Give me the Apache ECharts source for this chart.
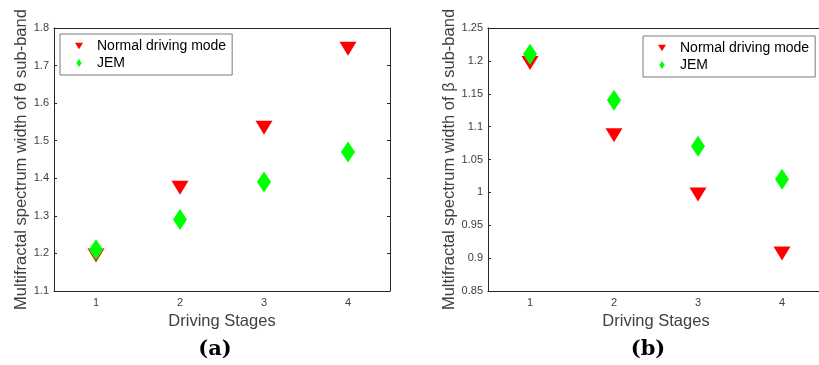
<!DOCTYPE html>
<html>
<head>
<meta charset="utf-8">
<script src="https://cdn.jsdelivr.net/npm/echarts@6/dist/echarts.min.js"></script>
<style>
  html, body { margin: 0; padding: 0; background: #fff; overflow: hidden; }
  #chart { width: 819px; height: 365px; }
</style>
</head>
<body>
<div id="chart"></div>
<script>
const stages = ['1', '2', '3', '4']
const seriesNames = ['Normal driving mode', 'JEM']

// (a) theta sub-band
const thetaNormal = [1.20, 1.38, 1.54, 1.75]
const thetaJem = [1.21, 1.29, 1.39, 1.47]
// (b) beta sub-band
const betaNormal = [1.20, 1.09, 1.00, 0.91]
const betaJem = [1.21, 1.14, 1.07, 1.02]

const thetaTicks = { min: 1.1, max: 1.8, interval: 0.1 }
const betaTicks = { min: 0.85, max: 1.25, interval: 0.05 }

const triPath = 'path://M0,0 L17,0 L8.5,14 Z'
const diaPath = 'path://M7,0 L14,10.5 L7,21 L0,10.5 Z'
const RED = '#ff0000'
const GREEN = '#00ff00'
const FONT = '"Liberation Sans", Arial, sans-serif'

const chart = echarts.init(document.getElementById('chart'))

const lineStyle = { color: '#262626', width: 1 }

const bottomX = (grid) => ({
  type: 'category',
  gridIndex: grid,
  data: stages,
  boundaryGap: true,
  name: 'Driving Stages',
  nameLocation: 'middle',
  nameGap: 20,
  nameTextStyle: { fontFamily: FONT, fontSize: 16.5, color: '#404040' },
  axisLine: { lineStyle },
  axisTick: { alignWithLabel: true, inside: true, length: 3, lineStyle },
  axisLabel: { fontFamily: FONT, fontSize: 11, color: '#404040', margin: 6 },
  splitLine: { show: false }
})

const topX = (grid) => ({
  type: 'category',
  gridIndex: grid,
  position: 'top',
  data: stages,
  boundaryGap: true,
  axisLine: { lineStyle },
  axisTick: { alignWithLabel: true, inside: true, length: 3, lineStyle },
  axisLabel: { show: false },
  splitLine: { show: false }
})

const leftY = (grid, ticks, name, gap) => ({
  type: 'value',
  gridIndex: grid,
  min: ticks.min,
  max: ticks.max,
  interval: ticks.interval,
  name: name,
  nameLocation: 'middle',
  nameGap: gap,
  nameTextStyle: { fontFamily: FONT, fontSize: 16.5, color: '#404040' },
  axisLine: { show: true, lineStyle },
  axisTick: { show: true, inside: true, length: 3, lineStyle },
  axisLabel: { fontFamily: FONT, fontSize: 11, color: '#404040', margin: 5 },
  splitLine: { show: false }
})

const rightY = (grid, ticks) => ({
  type: 'value',
  gridIndex: grid,
  position: 'right',
  min: ticks.min,
  max: ticks.max,
  interval: ticks.interval,
  axisLine: { show: true, lineStyle },
  axisTick: { show: true, inside: true, length: 3, lineStyle },
  axisLabel: { show: false },
  splitLine: { show: false }
})

const scatter = (name, data, axis, shape) => ({
  name: name,
  type: 'scatter',
  xAxisIndex: axis,
  yAxisIndex: axis,
  data: data,
  symbol: shape === 'tri' ? triPath : diaPath,
  symbolSize: shape === 'tri' ? [17, 14] : [14, 21],
  symbolOffset: shape === 'tri' ? [0, 2] : [0, 0],
  itemStyle: { color: shape === 'tri' ? RED : GREEN, opacity: 1 },
  emphasis: { disabled: true },
  z: shape === 'tri' ? 2 : 3
})

const legend = (left, top) => ({
  orient: 'vertical',
  left: left,
  top: top,
  padding: [5, 6, 5, 15],
  itemGap: 3,
  itemWidth: 8,
  itemHeight: 8,
  backgroundColor: '#fff',
  borderColor: '#7a7a7a',
  borderWidth: 1,
  selectedMode: false,
  textStyle: { fontFamily: FONT, fontSize: 14, color: '#000', padding: [0, 0, 0, 9] },
  data: [
    { name: seriesNames[0], icon: triPath },
    { name: seriesNames[1], icon: diaPath }
  ]
})

const option = {
  animation: false,
  backgroundColor: '#fff',
  grid: [
    { left: 54, width: 336, top: 28, bottom: 74, outerBoundsMode: 'none' },
    { left: 488, width: 336, top: 28, bottom: 74, outerBoundsMode: 'none' }
  ],
  xAxis: [bottomX(0), bottomX(1), topX(0), topX(1)],
  yAxis: [
    leftY(0, thetaTicks, 'Multifractal spectrum width of θ sub-band', 22),
    leftY(1, betaTicks, 'Multifractal spectrum width of β sub-band', 28),
    rightY(0, thetaTicks),
    rightY(1, betaTicks)
  ],
  legend: [legend(60, 34), legend(643, 36)],
  series: [
    scatter(seriesNames[0], thetaNormal, 0, 'tri'),
    scatter(seriesNames[1], thetaJem, 0, 'dia'),
    scatter(seriesNames[0], betaNormal, 1, 'tri'),
    scatter(seriesNames[1], betaJem, 1, 'dia')
  ],
  graphic: [
    {
      type: 'text', x: 215, y: 350,
      style: { text: '(a)', align: 'center', verticalAlign: 'middle', font: 'bold 21px "DejaVu Serif", serif', fill: '#000' }
    },
    {
      type: 'text', x: 648, y: 350,
      style: { text: '(b)', align: 'center', verticalAlign: 'middle', font: 'bold 21px "DejaVu Serif", serif', fill: '#000' }
    }
  ]
}

chart.setOption(option)
</script>
</body>
</html>
